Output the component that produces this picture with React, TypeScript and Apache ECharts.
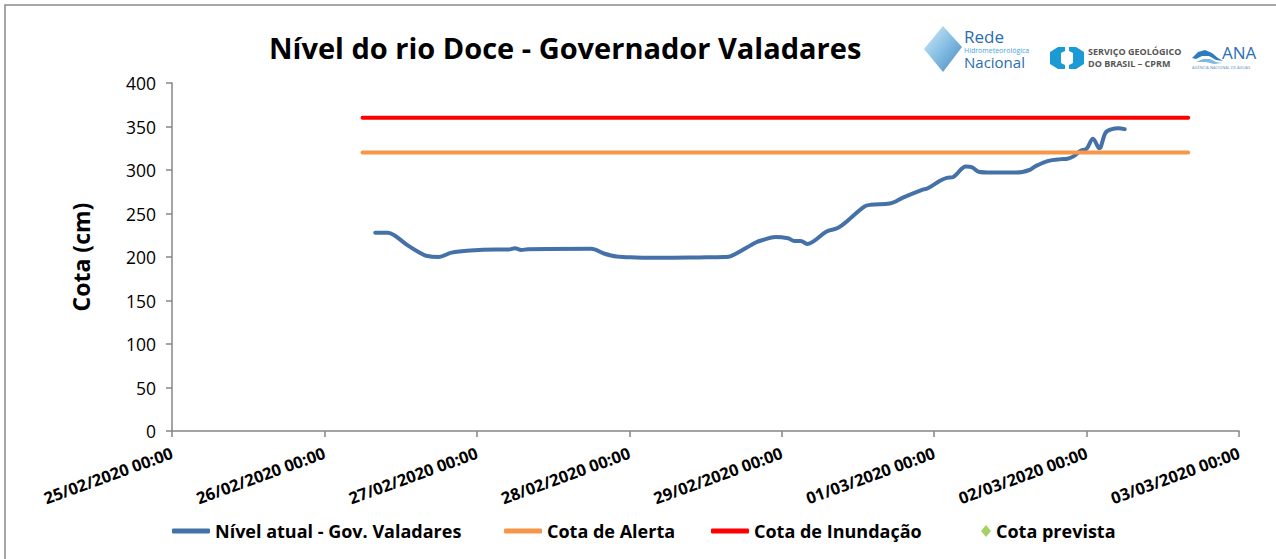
import React, { useEffect, useRef } from "react";
import * as echarts from "echarts";

const titleText = "Nível do rio Doce - Governador Valadares";
const yAxisName = "Cota (cm)";
const xMin = "2020-02-25 00:00";
const xMax = "2020-03-03 00:00";

const levelTimes = [
  "2020-02-26 08:00", "2020-02-26 10:00", "2020-02-26 11:00", "2020-02-26 13:00", "2020-02-26 15:00",
  "2020-02-26 16:00", "2020-02-26 18:00", "2020-02-26 20:00", "2020-02-26 23:00", "2020-02-27 03:00",
  "2020-02-27 05:00", "2020-02-27 06:00", "2020-02-27 07:00", "2020-02-27 08:00", "2020-02-27 18:00",
  "2020-02-27 20:00", "2020-02-27 22:00", "2020-02-28 01:00", "2020-02-28 05:00", "2020-02-28 11:00",
  "2020-02-28 15:00", "2020-02-28 16:00", "2020-02-28 20:00", "2020-02-28 21:00", "2020-02-28 23:00",
  "2020-02-29 01:00", "2020-02-29 02:00", "2020-02-29 03:00", "2020-02-29 04:00", "2020-02-29 05:00",
  "2020-02-29 07:00", "2020-02-29 09:00", "2020-02-29 13:00", "2020-02-29 14:00", "2020-02-29 17:00",
  "2020-02-29 18:00", "2020-02-29 19:00", "2020-02-29 22:00", "2020-02-29 23:00", "2020-03-01 01:00",
  "2020-03-01 02:00", "2020-03-01 03:00", "2020-03-01 05:00", "2020-03-01 06:00", "2020-03-01 07:00",
  "2020-03-01 09:00", "2020-03-01 13:00", "2020-03-01 15:00", "2020-03-01 16:00", "2020-03-01 18:00",
  "2020-03-01 20:00", "2020-03-01 21:00", "2020-03-01 22:00", "2020-03-01 23:00", "2020-03-02 00:00",
  "2020-03-02 01:00", "2020-03-02 02:00", "2020-03-02 03:00", "2020-03-02 04:00", "2020-03-02 05:00",
  "2020-03-02 06:00",
];
const levelValues = [
  228, 228, 225, 214, 205,
  201.5, 200, 205, 207.5, 208.5,
  208.5, 210, 208, 209, 209.5,
  204, 200.5, 199.5, 199, 199.5,
  200, 201, 217, 219.5, 223,
  221.5, 218.5, 218.5, 215, 218,
  229, 234, 258, 260, 261.5,
  264, 268, 277, 279, 288,
  291, 292, 304, 303, 298,
  297, 297, 300, 304.5, 310.5,
  312.5, 313, 316, 322, 324.5,
  336, 325, 343, 347, 348,
  347,
];
const refTimes = ["2020-02-26 06:00", "2020-03-02 16:00"];
const alertValues = [320, 320];
const floodValues = [360, 360];
const forecastTimes: string[] = [];
const forecastValues: number[] = [];

const seriesNames = ["Nível atual - Gov. Valadares", "Cota de Alerta", "Cota de Inundação", "Cota prevista"];
const seriesColors = ["#4571A9", "#F79646", "#FF0000", "#8CC63F"];

const pad = (n: number) => (n < 10 ? "0" + n : "" + n);

export default function App() {
  const ref = useRef<HTMLDivElement>(null);
  useEffect(() => {
    document.body.style.margin = "0";
    const chart = echarts.init(ref.current!, undefined, { renderer: "svg" });
    const legendFont = {
      fontFamily: "'Open Sans', sans-serif",
      fontWeight: "bold" as const,
      fontSize: 18,
      color: "#000",
    };
    const mkLegend = (i: number, left: number, w: number, h: number, icon: string) => ({
      left,
      top: 522,
      padding: 0,
      data: [{ name: seriesNames[i], icon }],
      itemWidth: w,
      itemHeight: h,
      itemGap: 0,
      textStyle: legendFont,
      selectedMode: false,
    });
    chart.setOption({
      animation: false,
      backgroundColor: "#fff",
      title: {
        text: titleText,
        left: 264,
        top: 28,
        textStyle: {
          fontFamily: "'Open Sans', sans-serif",
          fontWeight: "bold",
          fontSize: 29,
          color: "#000",
        },
      },
      legend: [
        mkLegend(0, 172, 38, 5, "roundRect"),
        mkLegend(1, 504, 38, 5, "roundRect"),
        mkLegend(2, 711, 38, 5, "roundRect"),
        mkLegend(3, 981, 10, 12, "diamond"),
      ],
      grid: { left: 172, right: 37, top: 83, bottom: 128, containLabel: false },
      xAxis: {
        type: "time",
        min: xMin,
        max: xMax,
        minInterval: 24 * 3600 * 1000,
        maxInterval: 24 * 3600 * 1000,
        splitLine: { show: false },
        axisLine: { lineStyle: { color: "#868686", width: 1.5 } },
        axisTick: { show: true, length: 6, lineStyle: { color: "#868686", width: 1.5 } },
        axisLabel: {
          rotate: 20,
          margin: 21,
          showMinLabel: true,
          showMaxLabel: true,
          hideOverlap: false,
          color: "#000",
          fontFamily: "'Open Sans', sans-serif",
          fontWeight: "bold",
          fontSize: 16.5,
          formatter: (v: number) => {
            const d = new Date(v);
            return `${pad(d.getDate())}/${pad(d.getMonth() + 1)}/${d.getFullYear()} ${pad(d.getHours())}:${pad(d.getMinutes())}`;
          },
        },
      },
      yAxis: {
        type: "value",
        min: 0,
        max: 400,
        interval: 50,
        name: yAxisName,
        nameLocation: "middle",
        nameGap: 80,
        nameTextStyle: {
          fontFamily: "'Open Sans', sans-serif",
          fontWeight: "bold",
          fontSize: 23,
          color: "#000",
        },
        splitLine: { show: false },
        axisLine: { show: true, lineStyle: { color: "#868686", width: 1.5 } },
        axisTick: { show: true, length: 6, lineStyle: { color: "#868686", width: 1.5 } },
        axisLabel: {
          margin: 16,
          color: "#000",
          fontFamily: "'Open Sans', sans-serif",
          fontSize: 17.5,
        },
      },
      series: [
        {
          name: seriesNames[0],
          type: "line",
          data: levelTimes.map((t, i) => [t, levelValues[i]]),
          smooth: 0.35,
          symbol: "none",
          color: seriesColors[0],
          lineStyle: { width: 4, cap: "round", join: "round" },
        },
        {
          name: seriesNames[1],
          type: "line",
          data: refTimes.map((t, i) => [t, alertValues[i]]),
          symbol: "none",
          color: seriesColors[1],
          lineStyle: { width: 4, cap: "round" },
        },
        {
          name: seriesNames[2],
          type: "line",
          data: refTimes.map((t, i) => [t, floodValues[i]]),
          symbol: "none",
          color: seriesColors[2],
          lineStyle: { width: 4, cap: "round" },
        },
        {
          name: seriesNames[3],
          type: "scatter",
          data: forecastTimes.map((t, i) => [t, forecastValues[i]]),
          symbol: "diamond",
          color: seriesColors[3],
        },
      ],
      graphic: [
        {
          type: "rect",
          silent: true,
          shape: { x: 5, y: 5, width: 1320, height: 620 },
          style: { fill: "none", stroke: "#8a8a8a", lineWidth: 1.5 },
        },
        // Rede Hidrometeorológica Nacional logo
        {
          type: "polygon",
          silent: true,
          shape: { points: [[943, 26], [962, 47], [943, 72], [924, 49]] },
          style: {
            fill: new echarts.graphic.LinearGradient(0, 0, 1, 1, [
              { offset: 0, color: "#cfe8f7" },
              { offset: 0.5, color: "#6fb3df" },
              { offset: 1, color: "#2c6fae" },
            ]),
            opacity: 0.85,
          },
        },
        {
          type: "text",
          silent: true,
          style: { x: 964, y: 28, text: "Rede", font: "500 17px 'Open Sans', sans-serif", fill: "#2a6cb1", lineHeight: 17 },
        },
        {
          type: "text",
          silent: true,
          style: { x: 964, y: 46.5, text: "Hidrometeorológica", font: "7px 'Open Sans', sans-serif", fill: "#44a6e0", lineHeight: 7 },
        },
        {
          type: "text",
          silent: true,
          style: { x: 964, y: 54.5, text: "Nacional", font: "500 15px 'Open Sans', sans-serif", fill: "#2a6cb1", lineHeight: 15 },
        },
        // CPRM logo
        {
          type: "polygon",
          silent: true,
          shape: { points: [[1050, 52], [1058, 47], [1065, 47], [1065, 51], [1061, 53], [1061, 63], [1065, 65], [1065, 69], [1058, 69], [1050, 64]] },
          style: { fill: "#1c9ad6" },
        },
        {
          type: "polygon",
          silent: true,
          shape: { points: [[1084, 52], [1076, 47], [1069, 47], [1069, 51], [1073, 53], [1073, 63], [1069, 65], [1069, 69], [1076, 69], [1084, 64]] },
          style: { fill: "#1c9ad6" },
        },
        {
          type: "text",
          silent: true,
          style: { x: 1088, y: 47, text: "SERVIÇO GEOLÓGICO", font: "bold 9px 'Open Sans', sans-serif", fill: "#555" },
        },
        {
          type: "text",
          silent: true,
          style: { x: 1088, y: 59, text: "DO BRASIL – CPRM", font: "bold 9px 'Open Sans', sans-serif", fill: "#555" },
        },
        // ANA logo
        {
          type: "polygon",
          silent: true,
          shape: { points: [[1192, 58], [1198, 52], [1205, 50], [1212, 53], [1218, 58], [1223, 61], [1216, 60], [1209, 56], [1202, 56], [1196, 59]] },
          style: { fill: "#2d7cc0" },
        },
        {
          type: "polygon",
          silent: true,
          shape: { points: [[1196, 62], [1203, 59], [1210, 59], [1216, 62], [1222, 63], [1214, 64], [1206, 62]] },
          style: { fill: "#7fb8e0" },
        },
        {
          type: "text",
          silent: true,
          style: { x: 1222, y: 44, text: "ANA", font: "17px 'Open Sans', sans-serif", fill: "#2d6fb3" },
        },
        {
          type: "text",
          silent: true,
          style: { x: 1192, y: 65, text: "AGÊNCIA NACIONAL DE ÁGUAS", font: "4px 'Open Sans', sans-serif", fill: "#5b8fc7" },
        },
      ],
    });
    return () => chart.dispose();
  }, []);
  return <div ref={ref} style={{ width: 1276, height: 559 }} />;
}
